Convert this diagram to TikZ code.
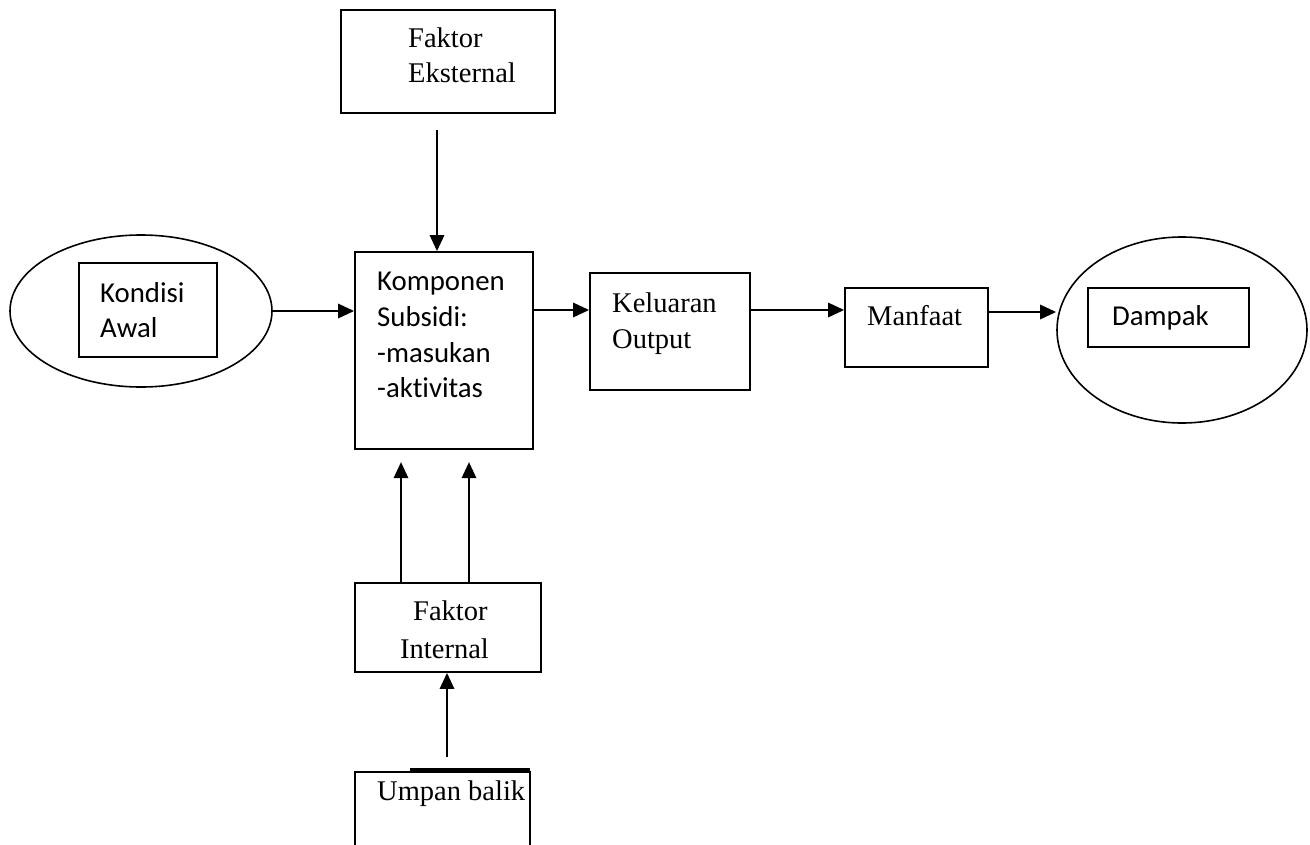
\documentclass[tikz,border=0pt]{standalone}
\usepackage{fontspec}
\setmainfont{Liberation Serif}
\newfontfamily\calfont[Ligatures=NoCommon]{Carlito}
\usetikzlibrary{arrows.meta,shapes.geometric}
\begin{document}
\begin{tikzpicture}[x=1pt,y=-1pt,
  boxst/.style={draw,line width=1.6pt,rectangle,inner sep=0pt},
  ellst/.style={draw,line width=1.6pt,ellipse,inner sep=0pt},
  arr/.style={line width=2.8pt,-{Triangle[length=16pt,width=14pt]}},
  sertxt/.style={anchor=base west,inner sep=0pt,font=\fontsize{28.5}{35}\selectfont},
  santxt/.style={anchor=base west,inner sep=0pt,font=\calfont\fontsize{28.8}{35}\selectfont}]
\useasboundingbox (0,0) rectangle (1310,844);
\fill[white] (0,0) rectangle (1310,844);
% boxes
\node[boxst,minimum width=214pt,minimum height=103pt] (ext) at (448,61.5) {};
\node[boxst,minimum width=178pt,minimum height=197pt] (komp) at (444,350.5) {};
\node[boxst,minimum width=160pt,minimum height=117pt] (kel) at (670,331.5) {};
\node[boxst,minimum width=143pt,minimum height=79pt] (man) at (916.5,327.5) {};
\node[ellst,minimum width=250pt,minimum height=186pt] (dell) at (1182,330) {};
\node[boxst,minimum width=161pt,minimum height=59pt] (dbox) at (1168.5,317.5) {};
\node[ellst,minimum width=262pt,minimum height=152pt] (kell) at (141,311) {};
\node[boxst,minimum width=138pt,minimum height=94pt] (kbox) at (148,310) {};
\node[boxst,minimum width=186pt,minimum height=89pt] (int) at (448,627.5) {};
\node[boxst,minimum width=175pt,minimum height=120pt] (ump) at (442.5,832) {};
\draw[line width=3pt] (410,769.5) -- (530,769.5);
% texts
\node[sertxt] (t1) at (408,47) {Faktor};
\node[sertxt] (t2) at (408,82) {Eksternal};
\node[santxt] (t3) at (377,290) {Komponen};
\node[santxt] (t4) at (377,326) {Subsidi:};
\node[santxt] (t5) at (377,362) {-masukan};
\node[santxt] (t6) at (377,397) {-aktivitas};
\node[sertxt] (t7) at (612,312) {Keluaran};
\node[sertxt] (t8) at (612,348) {Output};
\node[sertxt] (t9) at (867,325) {Manfaat};
\node[santxt] (t10) at (1112,325) {Dampak};
\node[santxt] (t11) at (100,302) {Kondisi};
\node[santxt] (t12) at (100,337) {Awal};
\node[sertxt] (t13) at (413,620) {Faktor};
\node[sertxt] (t14) at (400,658) {Internal};
\node[sertxt] (t15) at (377,800) {Umpan balik};
% connector coordinates
\coordinate (c1) at (437,130);
\coordinate (y310) at (0,310);
\coordinate (y312) at (0,312);
\coordinate (xa) at (401,462);
\coordinate (xb) at (469,462);
\coordinate (c2) at (447,757);
% connectors
\draw[arr] (c1) -- (komp.north -| c1);
\draw[arr] (kell.east) -- (komp.west |- kell.east);
\draw[arr] (komp.east |- y310) -- (kel.west |- y310);
\draw[arr] (kel.east |- y310) -- (man.west |- y310);
\draw[arr] (man.east |- y312) -- (dell.west |- y312);
\draw[arr] (int.north -| xa) -- (xa);
\draw[arr] (int.north -| xb) -- (xb);
\draw[arr] (c2) -- (int.south -| c2);
\end{tikzpicture}
\end{document}
